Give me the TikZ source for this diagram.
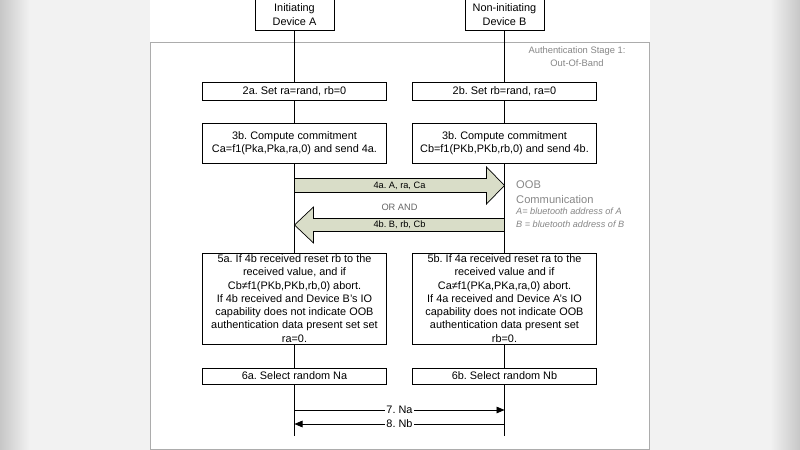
\documentclass[tikz,border=0pt]{standalone}
\usepackage{fontspec}
\setmainfont{Liberation Sans}
\usetikzlibrary{arrows.meta,calc}
\definecolor{oobfill}{RGB}{217,221,200}
\definecolor{notegray}{RGB}{135,135,135}
\definecolor{framegray}{RGB}{172,172,172}
\frenchspacing

\begin{document}
\begin{tikzpicture}[x=0.03cm, y=-0.03cm, font=\fontsize{9.3}{11.3}\selectfont,
	device/.style={draw, fill=white, line width=0.7pt, align=center, minimum width=2.37cm, minimum height=0.93cm, inner sep=1pt},
	stepbox/.style={draw, fill=white, line width=0.7pt, align=center, minimum width=5.52cm, inner sep=1pt},
	life/.style={line width=0.7pt},
	oob/.style={draw, fill=oobfill, line width=0.6pt},
	msglbl/.style={font=\fontsize{7.9}{9}\selectfont},
	nonce/.style={line width=0.6pt, -{Triangle[length=2.4mm, width=2mm]}},
	noncelbl/.style={fill=white, inner sep=1pt}]
	\useasboundingbox (0,0) rectangle (800,450);
	\fill[white] (0,0) rectangle (800,450);
	\fill[black!5] (0,0) rectangle (150,450);
	\shade[left color=black!22, right color=black!5] (0,0) rectangle (30,450);
	\fill[black!5] (650,0) rectangle (800,450);
	\shade[left color=black!5, right color=black!22] (770,0) rectangle (800,450);
	\draw[framegray, line width=0.6pt] (150,42) rectangle (649,449);
	\node[text=notegray, align=center, font=\fontsize{8}{11}\selectfont] (stage) at (577,56.5) {Authentication Stage 1:\\Out-Of-Band};

	\node[device] (devA) at (294.5,14.5) {Initiating\\Device A};
	\node[device] (devB) at (504.5,14.5) {Non-initiating\\Device B};
	\node[stepbox, minimum height=0.54cm] (setA) at (294.5,91) {2a. Set ra=rand, rb=0};
	\node[stepbox, minimum height=0.54cm] (setB) at (504.5,91) {2b. Set rb=rand, ra=0};
	\node[stepbox, minimum height=1.2cm] (commitA) at (294.5,143) {3b. Compute commitment\\Ca=f1(Pka,Pka,ra,0) and send 4a.};
	\node[stepbox, minimum height=1.2cm] (commitB) at (504.5,143) {3b. Compute commitment\\Cb=f1(PKb,PKb,rb,0) and send 4b.};
	\node[stepbox, minimum height=2.73cm] (checkA) at (294.5,298.5) {5a. If 4b received reset rb to the\\received value, and if\\Cb≠f1(PKb,PKb,rb,0) abort.\\If 4b received and Device B's IO\\capability does not indicate OOB\\authentication data present set set\\ra=0.};
	\node[stepbox, minimum height=2.73cm] (checkB) at (504.5,298.5) {5b. If 4a received reset ra to the\\received value and if\\Ca≠f1(PKa,PKa,ra,0) abort.\\If 4a received and Device A's IO\\capability does not indicate OOB\\authentication data present set\\rb=0.};
	\node[stepbox, minimum height=0.48cm] (nonceA) at (294.5,376) {6a. Select random Na};
	\node[stepbox, minimum height=0.48cm] (nonceB) at (504.5,376) {6b. Select random Nb};
	\coordinate (endA) at (294.5,436);
	\coordinate (endB) at (504.5,436);
	\draw[life] (devA) -- (setA) -- (commitA) -- (checkA) -- (nonceA) -- (endA);
	\draw[life] (devB) -- (setB) -- (commitB) -- (checkB) -- (nonceB) -- (endB);

	\coordinate (oobA) at (294.5,185.5);
	\coordinate (oobB) at (504.5,185.5);
	\draw[oob] ($(oobA)+(0,-7)$) -- ($(oobB)+(-18,-7)$) -- ($(oobB)+(-18,-18.5)$) -- (oobB) -- ($(oobB)+(-18,18.5)$) -- ($(oobB)+(-18,7)$) -- ($(oobA)+(0,7)$) -- cycle;
	\node[msglbl] (msg4a) at ($(oobA)!0.5!(oobB)$) {4a. A, ra, Ca};
	\node[msglbl, text=black!60] (orand) at (399.5,207) {OR AND};
	\coordinate (oobC) at (294.5,225);
	\coordinate (oobD) at (504.5,225);
	\draw[oob] ($(oobD)+(0,-6.5)$) -- ($(oobC)+(19,-6.5)$) -- ($(oobC)+(19,-18)$) -- (oobC) -- ($(oobC)+(19,18)$) -- ($(oobC)+(19,6.5)$) -- ($(oobD)+(0,6.5)$) -- cycle;
	\node[msglbl] (msg4b) at ($(oobC)!0.5!(oobD)$) {4b. B, rb, Cb};
	\node[anchor=west, align=left, text=notegray, font=\fontsize{9.5}{13}\selectfont, inner sep=0pt] (oobnote) at (516,192.5) {OOB\\Communication};
	\node[anchor=west, align=left, text=notegray, font=\fontsize{7.8}{11.5}\selectfont\itshape, inner sep=0pt] (addr) at (516,217.5) {A= bluetooth address of A\\B = bluetooth address of B};

	\coordinate (na0) at (294.5,410);
	\coordinate (na1) at (504.5,410);
	\coordinate (nb0) at (504.5,424);
	\coordinate (nb1) at (294.5,424);
	\draw[nonce] (na0) -- node[noncelbl] (msg7) {7. Na} (na1);
	\draw[nonce] (nb0) -- node[noncelbl] (msg8) {8. Nb} (nb1);
\end{tikzpicture}
\end{document}
